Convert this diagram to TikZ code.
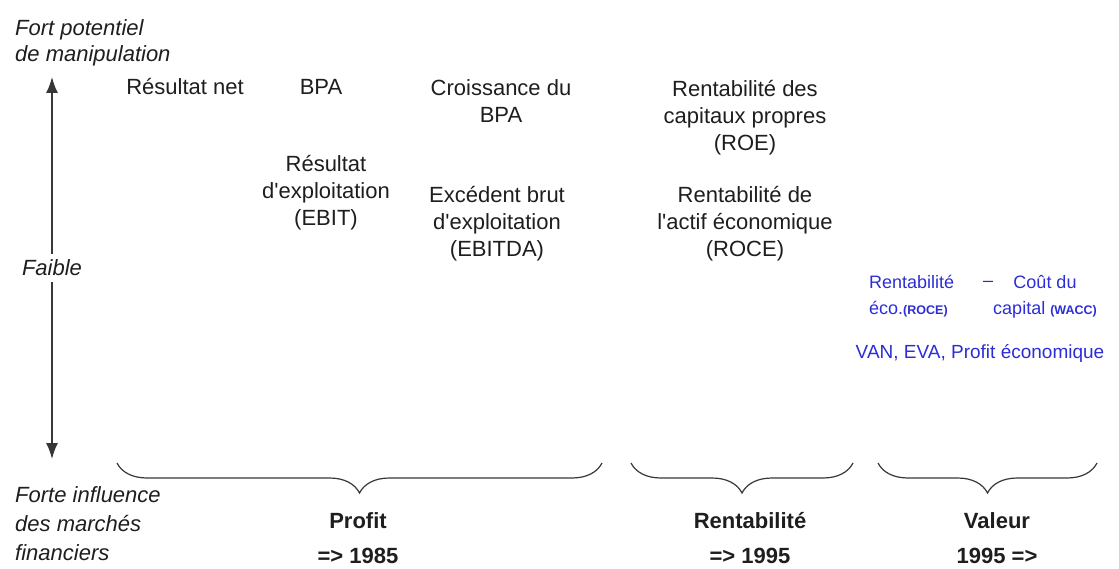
\documentclass[tikz,border=0pt]{standalone}
\usepackage{fontspec}
\setmainfont{Liberation Sans}
\usetikzlibrary{arrows.meta,decorations.pathreplacing}
\definecolor{ink}{RGB}{30,30,30}
\definecolor{vblue}{RGB}{45,45,215}
\definecolor{linegray}{RGB}{55,55,55}
\newcommand\smalltag[1]{{\fontsize{12.5}{12.5}\selectfont\bfseries #1}}
\newcommand\apos{\textquotesingle}

\begin{document}
\begin{tikzpicture}[x=1pt,y=-1pt,
  lbl/.style={inner sep=0pt, text=ink, font=\fontsize{22}{27}\selectfont, align=center, anchor=base},
  axis/.style={inner sep=0pt, text=ink, font=\fontsize{22}{26}\selectfont\itshape, align=left, anchor=base west},
  era/.style={inner sep=0pt, text=ink, font=\fontsize{22}{35}\selectfont\bfseries, align=center, anchor=base},
  bluetxt/.style={inner sep=0pt, text=vblue, font=\fontsize{18}{26}\selectfont, anchor=base},
  period/.style={draw=linegray, line width=1.2pt, decorate, decoration={brace, mirror, amplitude=30pt}},
  scalearrow/.style={draw=linegray, line width=1.5pt, -{Latex[length=16pt,width=12pt]}}
]
\useasboundingbox (0,0) rectangle (1119,569);

% vertical scale on the left (multi-line nodes sit on their last baseline)
\node[axis] (hi) at (15,62) {Fort potentiel\\de manipulation};
\node[inner xsep=2pt, inner ysep=6pt, text=ink, font=\fontsize{22}{26}\selectfont\itshape, anchor=base] (faible) at (52,276) {Faible};
\coordinate (hiTip) at (52,77);
\coordinate (loTip) at (52,459);
\draw[scalearrow] (faible.north) -- (hiTip);
\draw[scalearrow] (faible.south) -- (loTip);
\node[axis, font=\fontsize{22}{29}\selectfont\itshape] (lo) at (15,560) {Forte influence\\des marchés\\financiers};

% profit indicators
\node[lbl] (net) at (185,95) {Résultat net};
\node[lbl] (bpa) at (321,95) {BPA};
\node[lbl] (cbpa) at (501,123) {Croissance du\\BPA};
\node[lbl] (ebit) at (326,226) {Résultat\\d\apos exploitation\\(EBIT)};
\node[lbl] (ebitda) at (497,257) {Excédent brut\\d\apos exploitation\\(EBITDA)};

% profitability indicators
\node[lbl] (roe) at (745,151) {Rentabilité des\\capitaux propres\\(ROE)};
\node[lbl] (roce) at (745,257) {Rentabilité de\\l\apos actif économique\\(ROCE)};

% value creation
\node[bluetxt, anchor=base west, align=left] (roceb) at (869,315) {Rentabilité\\éco.\smalltag{(ROCE)}};
\node[bluetxt] (minus) at (988,287) {–};
\node[bluetxt, align=center] (wacc) at (1045,315) {Coût du\\capital \smalltag{(WACC)}};
\node[inner sep=0pt, text=vblue, font=\fontsize{19}{19}\selectfont, anchor=base] (van) at (980,358) {VAN, EVA, Profit économique};

% periods
\coordinate (b1s) at (117,463);
\coordinate (b1e) at (602,463);
\coordinate (b2s) at (631,463);
\coordinate (b2e) at (853,463);
\coordinate (b3s) at (878,463);
\coordinate (b3e) at (1097,463);
\draw[period] (b1s) -- (b1e);
\draw[period] (b2s) -- (b2e);
\draw[period] (b3s) -- (b3e);

\node[era] (profit) at (358,563) {Profit\\=> 1985};
\node[era] (rent) at (750,563) {Rentabilité\\=> 1995};
\node[era] (val) at (997,563) {Valeur\\1995 =>};
\end{tikzpicture}
\end{document}
